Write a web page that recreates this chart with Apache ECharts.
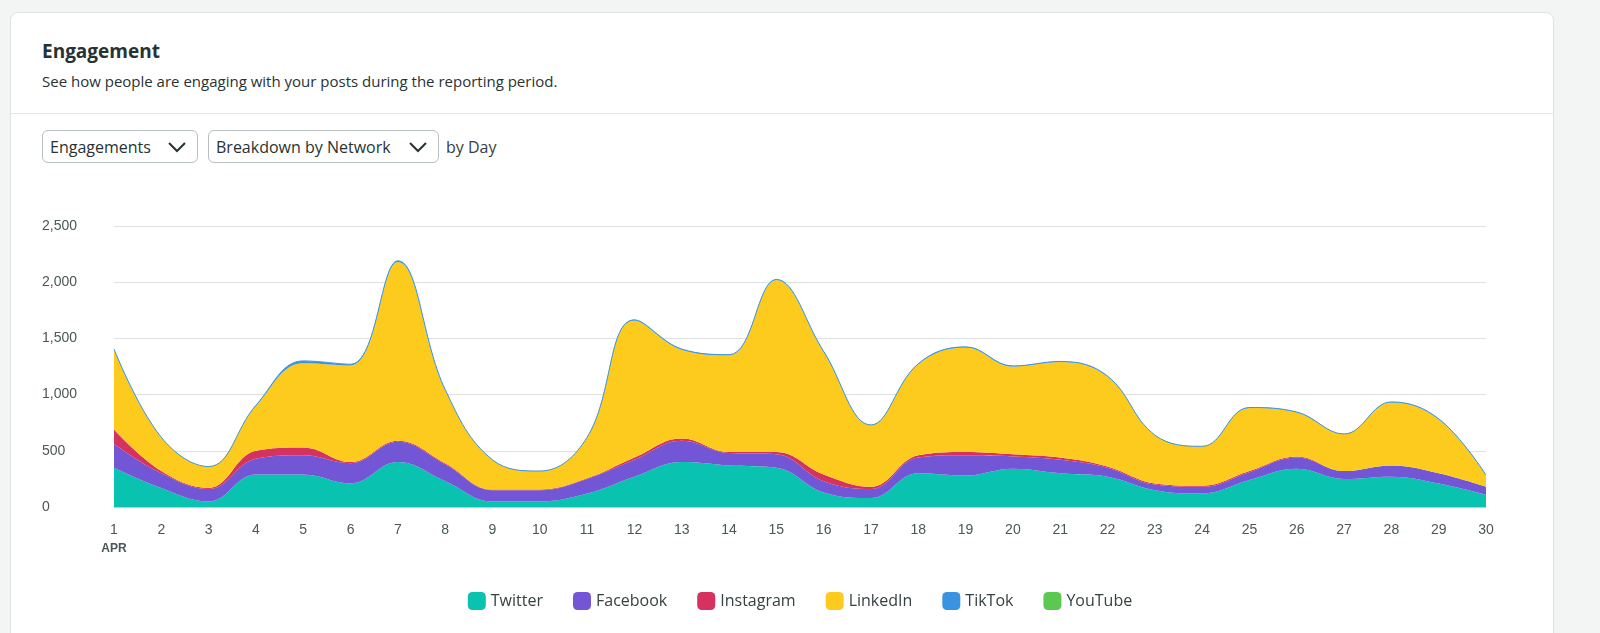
<!DOCTYPE html>
<html><head><meta charset="utf-8">
<script src="https://cdn.jsdelivr.net/npm/echarts@6/dist/echarts.min.js"></script>
<style>
html,body{margin:0;overflow:hidden;width:1600px;height:633px}
body{background:#f3f4f4;font-family:"Open Sans",Lato,sans-serif;color:#273333}
.card{position:absolute;left:10px;top:12px;width:1542px;height:630px;background:#fff;border:1px solid #dfe2e2;border-radius:8px}
.hd{height:100px;border-bottom:1px solid #e3e6e6;padding-left:31px}
h1{margin:0;padding-top:25px;font-size:19px;font-weight:700}
p{margin:7px 0 0;font-size:15px}
.sel{position:absolute;top:117px;height:33px;border:1px solid #b8bfbf;border-radius:6px;font-size:16px;line-height:33px;padding-left:7px;box-sizing:border-box}
.sel svg{position:absolute;right:10px;top:10px}
#c{position:absolute;left:0;top:0;width:1600px;height:633px}
</style></head><body>
<div class="card"><div class="hd"><h1>Engagement</h1><p>See how people are engaging with your posts during the reporting period.</p></div>
<div class="sel" style="left:31px;width:156px">Engagements<svg width="20" height="12"><path d="M2 2 L10 10 L18 2" stroke="#273333" stroke-width="2" fill="none"/></svg></div>
<div class="sel" style="left:197px;width:231px">Breakdown by Network<svg width="20" height="12"><path d="M2 2 L10 10 L18 2" stroke="#273333" stroke-width="2" fill="none"/></svg></div>
<div style="position:absolute;left:435px;top:118px;line-height:33px;font-size:16px;color:#364141">by Day</div>
</div>
<div id="c"></div>
<script>
const days = Array.from({length:30},(_, i)=>String(i+1));
const twitter   = [350,170,50,290,290,210,400,230,50,50,120,270,400,370,350,130,80,300,280,340,300,270,150,120,240,340,250,270,210,110];
const facebook  = [210,130,110,140,170,180,180,150,100,100,130,150,190,110,120,100,80,140,180,110,120,80,50,60,70,100,70,100,90,70];
const instagram = [130,20,10,70,70,10,10,10,5,5,5,20,20,10,20,60,20,20,30,20,20,10,10,10,10,10,0,0,0,0];
const linkedin  = [710,300,190,400,750,860,1590,650,265,165,365,1220,790,860,1530,1090,550,810,930,780,850,800,430,350,560,390,330,560,480,100];
const tiktok    = [5,0,0,5,20,10,10,5,0,0,0,5,5,5,5,5,0,5,5,5,5,5,0,0,5,5,0,5,5,5];
const youtube   = new Array(30).fill(0);
const names = ['Twitter','Facebook','Instagram','LinkedIn','TikTok','YouTube'];
const colors = ['#0ac2b0','#7256d6','#d6325f','#fdcb1e','#3a93e0','#5bc851'];
const values = [twitter,facebook,instagram,linkedin,tiktok,youtube];
const chart = echarts.init(document.getElementById('c'));
chart.setOption({
  animation:false,
  color:colors,
  grid:{left:114,right:114,top:226,bottom:126},
  legend:{bottom:18,left:'center',itemWidth:18,itemHeight:18,itemGap:30,icon:'roundRect',
    textStyle:{fontSize:16,color:'#364141',fontFamily:'Open Sans'},data:names},
  xAxis:{type:'category',boundaryGap:false,data:days,
    axisLine:{lineStyle:{color:'#c5cbcb'}},axisTick:{show:false},
    axisLabel:{interval:0,color:'#4b5757',fontSize:14,margin:16,
      formatter:(v)=>v==='1'?'1\n{m|APR}':v,rich:{m:{fontSize:12,fontWeight:700,color:'#4b5757',padding:[6,0,0,0]}}}},
  yAxis:{type:'value',min:0,max:2500,interval:500,
    axisLabel:{color:'#4b5757',fontSize:14,margin:72,align:'left',formatter:(v)=>v.toLocaleString('en-US')},
    splitLine:{lineStyle:{color:'#dde1e1'}}},
  series:names.map((n,i)=>({name:n,type:'line',stack:'a',smooth:0.4,symbol:'none',
    lineStyle:{width:i===4?1:0},areaStyle:{opacity:1},data:values[i]}))
});
</script></body></html>
